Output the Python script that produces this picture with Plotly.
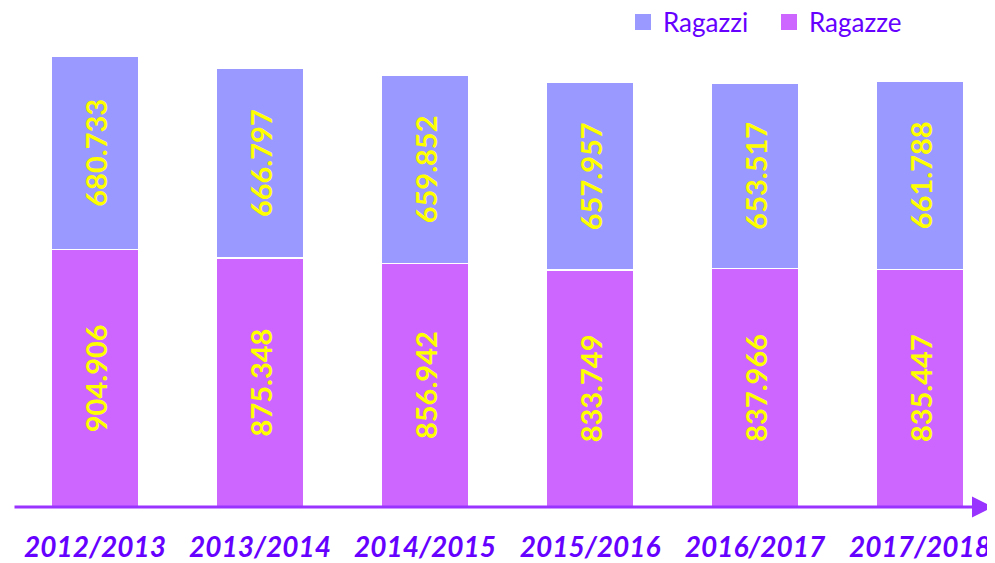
import plotly.graph_objects as go

anni = ["2012/2013", "2013/2014", "2014/2015", "2015/2016", "2016/2017", "2017/2018"]
ragazze = [904906, 875348, 856942, 833749, 837966, 835447]
ragazzi = [680733, 666797, 659852, 657957, 653517, 661788]

# page body has an 8px margin: size the figure so it fits the 995x563 window
OFF = 8
W, H = 995 - OFF, 563 - OFF
ml, mr, mt, mb = 13 - OFF, 0, 40 - OFF, 56
plot_h = H - mt - mb
plot_w = W - ml - mr
ymax = (ragazze[0] + ragazzi[0]) * plot_h / 451.0

FONT = "Lato, Open Sans, sans-serif"
label_font = dict(family=FONT, size=29, color="#FFFF00", weight="bold")
C_F = "#CC66FF"
C_M = "#9999FF"

fig = go.Figure()
fig.add_trace(go.Bar(
    x=anni, y=ragazze, name="Ragazze", showlegend=False,
    marker=dict(color=C_F, line=dict(color="white", width=1.5)),
    texttemplate="%{y:,}", textposition="inside", textangle=-90,
    insidetextanchor="middle", textfont=label_font,
))
fig.add_trace(go.Bar(
    x=anni, y=ragazzi, name="Ragazzi", showlegend=False,
    marker=dict(color=C_M, line=dict(color="white", width=1.5)),
    texttemplate="%{y:,}", textposition="inside", textangle=-90,
    insidetextanchor="middle", textfont=label_font,
))
# legend entries
for nm, col in [("Ragazzi", C_M), ("Ragazze", C_F)]:
    fig.add_trace(go.Scatter(
        x=[None], y=[None], mode="markers", name=nm,
        marker=dict(symbol="square", size=17, color=col),
    ))

px_per_cat = 165.0
x0 = -(95 - 13) / px_per_cat
x1 = x0 + plot_w / px_per_cat

fig.update_layout(
    width=W, height=H,
    margin=dict(l=ml, r=mr, t=mt, b=mb, autoexpand=False),
    barmode="stack", bargap=1 - 87 / 165.0,
    separators=",.",
    plot_bgcolor="white", paper_bgcolor="white",
    uniformtext=dict(mode="show", minsize=10),
    xaxis=dict(
        range=[x0, x1], showgrid=False, showline=False, zeroline=False,
        ticks="", ticklabelstandoff=21, automargin=False,
        tickfont=dict(family=FONT, size=28, color="#6600FF",
                      weight="bold", style="italic"),
    ),
    yaxis=dict(range=[0, ymax], visible=False, automargin=False),
    legend=dict(
        orientation="h", x=(623 - 13) / plot_w, xanchor="left",
        y=1 + 18.0 / plot_h, yanchor="middle",
        traceorder="normal", entrywidth=101, entrywidthmode="pixels",
        font=dict(family=FONT, size=26, color="#6600FF"),
        bgcolor="rgba(0,0,0,0)",
    ),
    showlegend=True,
)

# axis line with arrow
fig.add_annotation(
    xref="x domain", yref="y domain", axref="x domain", ayref="y domain",
    x=(W - 2 - ml) / plot_w, y=0,
    ax=0, ay=0,
    showarrow=True, arrowhead=2, arrowsize=1.4, arrowwidth=3,
    arrowcolor="#9933FF", text="",
)

fig.write_html("out.html")
